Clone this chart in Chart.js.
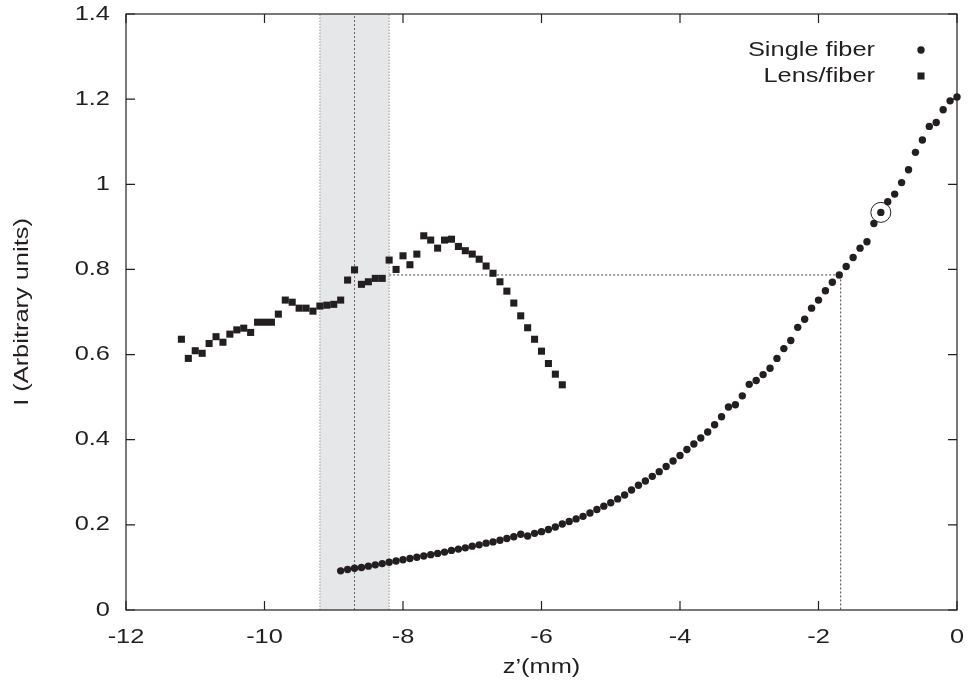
<!DOCTYPE html>
<html>
<head>
<meta charset="utf-8">
<title>I vs z'</title>
<script src="https://cdn.jsdelivr.net/npm/chart.js@4.4.1/dist/chart.umd.min.js"></script>
<style>
  html, body { margin: 0; padding: 0; background: #fff; }
  #wrap { width: 968px; height: 695px; position: relative; }
</style>
</head>
<body>
<div id="wrap"><canvas id="chart"></canvas></div>
<script>
// --- data ---
const xTicks = { min: -12, max: 0, step: 2 };
const yTicks = { min: 0, max: 1.4, step: 0.2 };

const singleZ = [
  -8.9, -8.8, -8.7, -8.6, -8.5, -8.4, -8.3, -8.2, -8.1, -8.0,
  -7.9, -7.8, -7.7, -7.6, -7.5, -7.4, -7.3, -7.2, -7.1, -7.0,
  -6.9, -6.8, -6.7, -6.6, -6.5, -6.4, -6.3, -6.2, -6.1, -6.0,
  -5.9, -5.8, -5.7, -5.6, -5.5, -5.4, -5.3, -5.2, -5.1, -5.0,
  -4.9, -4.8, -4.7, -4.6, -4.5, -4.4, -4.3, -4.2, -4.1, -4.0,
  -3.9, -3.8, -3.7, -3.6, -3.5, -3.4, -3.3, -3.2, -3.1, -3.0,
  -2.9, -2.8, -2.7, -2.6, -2.5, -2.4, -2.3, -2.2, -2.1, -2.0,
  -1.9, -1.8, -1.7, -1.6, -1.5, -1.4, -1.3, -1.2, -1.1, -1.0,
  -0.9, -0.8, -0.7, -0.6, -0.5, -0.4, -0.3, -0.2, -0.1, 0
];
const singleI = [
  0.092, 0.095, 0.098, 0.100, 0.103, 0.106, 0.109, 0.112, 0.115, 0.118,
  0.121, 0.124, 0.127, 0.130, 0.133, 0.136, 0.140, 0.143, 0.146, 0.150,
  0.153, 0.157, 0.160, 0.164, 0.168, 0.172, 0.178, 0.174, 0.180, 0.184,
  0.189, 0.195, 0.202, 0.208, 0.214, 0.220, 0.228, 0.236, 0.244, 0.252,
  0.261, 0.270, 0.282, 0.293, 0.303, 0.314, 0.325, 0.337, 0.350, 0.363,
  0.377, 0.390, 0.404, 0.418, 0.435, 0.454, 0.477, 0.482, 0.503, 0.530,
  0.539, 0.553, 0.568, 0.591, 0.614, 0.633, 0.664, 0.683, 0.709, 0.728,
  0.750, 0.770, 0.787, 0.807, 0.828, 0.850, 0.865, 0.908, 0.934, 0.959,
  0.977, 1.004, 1.034, 1.075, 1.104, 1.136, 1.145, 1.175, 1.196, 1.205
];

const lensZ = [
  -11.2, -11.1, -11.0, -10.9, -10.8, -10.7, -10.6, -10.5, -10.4, -10.3,
  -10.2, -10.1, -10.0, -9.9, -9.8, -9.7, -9.6, -9.5, -9.4, -9.3,
  -9.2, -9.1, -9.0, -8.9, -8.8, -8.7, -8.6, -8.5, -8.4, -8.3,
  -8.2, -8.1, -8.0, -7.9, -7.8, -7.7, -7.6, -7.5, -7.4, -7.3,
  -7.2, -7.1, -7.0, -6.9, -6.8, -6.7, -6.6, -6.5, -6.4, -6.3,
  -6.2, -6.1, -6.0, -5.9, -5.8, -5.7
];
const lensI = [
  0.636, 0.591, 0.609, 0.603, 0.626, 0.642, 0.629, 0.648, 0.658, 0.662,
  0.652, 0.676, 0.676, 0.676, 0.695, 0.728, 0.723, 0.709, 0.709, 0.702,
  0.714, 0.716, 0.718, 0.728, 0.775, 0.799, 0.765, 0.771, 0.779, 0.779,
  0.822, 0.800, 0.832, 0.811, 0.836, 0.879, 0.869, 0.850, 0.869, 0.871,
  0.854, 0.844, 0.836, 0.824, 0.808, 0.791, 0.771, 0.749, 0.721, 0.691,
  0.663, 0.636, 0.608, 0.579, 0.554, 0.529
];

// shaded band, its centre line, the dotted guide and the circled point
const bandZ = [-9.2, -8.2];
const bandMidZ = -8.7;
const guideZ = [-8.2, -1.68, -1.68];
const guideI = [0.787, 0.787, 0];
const circledZ = [-1.1];
const circledI = [0.934];

const seriesNames = ['Single fiber', 'Lens/fiber'];

// --- styling ---
const INK = '#231f20';
const FONT = '"Liberation Sans", Arial, Helvetica, sans-serif';

// the original uses a wide Helvetica: stretch canvas text around its anchor
const TEXT_STRETCH = 1.27;
const baseFillText = CanvasRenderingContext2D.prototype.fillText;
CanvasRenderingContext2D.prototype.fillText = function (text, x, y) {
  this.save();
  this.translate(x, y);
  this.scale(TEXT_STRETCH, 1);
  baseFillText.call(this, text, 0, 0);
  this.restore();
};

const pts = (xs, ys) => xs.map((x, i) => ({ x, y: ys[i] }));
const vline = z => [{ x: z, y: yTicks.min }, { x: z, y: yTicks.max }];

// box with inward ticks on all four sides (gnuplot style)
const framePlugin = {
  id: 'frame',
  afterDatasetsDraw(chart) {
    const { ctx, chartArea: a, scales } = chart;
    const tl = 9;
    ctx.save();
    ctx.strokeStyle = INK;
    ctx.lineWidth = 1.2;
    ctx.strokeRect(a.left, a.top, a.right - a.left, a.bottom - a.top);
    ctx.beginPath();
    scales.x.ticks.forEach(t => {
      const px = scales.x.getPixelForValue(t.value);
      ctx.moveTo(px, a.bottom); ctx.lineTo(px, a.bottom - tl);
      ctx.moveTo(px, a.top); ctx.lineTo(px, a.top + tl);
    });
    scales.y.ticks.forEach(t => {
      const py = scales.y.getPixelForValue(t.value);
      ctx.moveTo(a.left, py); ctx.lineTo(a.left + tl, py);
      ctx.moveTo(a.right, py); ctx.lineTo(a.right - tl, py);
    });
    ctx.stroke();
    ctx.restore();
  }
};

// key in the top-right corner: label on the left, marker on the right
const keyPlugin = {
  id: 'key',
  afterDraw(chart) {
    const { ctx, chartArea: a } = chart;
    const styles = [{ pointStyle: 'circle', radius: 3.7 }, { pointStyle: 'rect', radius: 5 }];
    ctx.save();
    ctx.font = `20px ${FONT}`;
    ctx.textAlign = 'right';
    ctx.textBaseline = 'middle';
    seriesNames.forEach((name, i) => {
      const y = a.top + 36 + i * 26;
      ctx.fillStyle = INK;
      ctx.fillText(name, a.right - 82, y);
      ctx.strokeStyle = INK;
      ctx.lineWidth = 0;
      Chart.helpers.drawPoint(ctx, { ...styles[i], rotation: 0, borderWidth: 0 }, a.right - 36, y);
    });
    ctx.restore();
  }
};

Chart.defaults.font.family = FONT;
Chart.defaults.font.size = 20;
Chart.defaults.color = INK;

new Chart(document.getElementById('chart'), {
  type: 'scatter',
  data: {
    datasets: [
      {
        label: seriesNames[0],
        data: pts(singleZ, singleI),
        pointStyle: 'circle',
        pointRadius: 3.7,
        backgroundColor: INK,
        borderWidth: 0,
        clip: false,
        order: 0,
      },
      {
        label: seriesNames[1],
        data: pts(lensZ, lensI),
        pointStyle: 'rect',
        pointRadius: 5,
        backgroundColor: INK,
        borderWidth: 0,
        clip: false,
        order: 0,
      },
      {
        label: 'circled',
        data: pts(circledZ, circledI),
        pointStyle: 'circle',
        pointRadius: 10,
        backgroundColor: 'rgba(0,0,0,0)',
        borderColor: INK,
        borderWidth: 1,
        order: 1,
      },
      {
        label: 'guide',
        data: pts(guideZ, guideI),
        showLine: true,
        borderColor: '#444',
        borderWidth: 1,
        borderDash: [2, 2],
        pointRadius: 0,
        order: 2,
      },
      {
        label: 'band-mid',
        data: vline(bandMidZ),
        showLine: true,
        borderColor: '#666',
        borderWidth: 1,
        borderDash: [2, 2],
        pointRadius: 0,
        order: 2,
      },
      {
        label: 'band-left',
        data: vline(bandZ[0]),
        showLine: true,
        borderColor: '#999',
        borderWidth: 1,
        borderDash: [1.5, 1.5],
        pointRadius: 0,
        order: 2,
      },
      {
        label: 'band-right',
        data: vline(bandZ[1]),
        showLine: true,
        borderColor: '#999',
        borderWidth: 1,
        borderDash: [1.5, 1.5],
        pointRadius: 0,
        order: 2,
      },
      {
        label: 'band',
        data: bandZ.map(z => ({ x: z, y: yTicks.max })),
        showLine: true,
        fill: 'origin',
        backgroundColor: '#e6e7e8',
        borderWidth: 0,
        pointRadius: 0,
        order: 3,
      },
    ],
  },
  options: {
    responsive: true,
    maintainAspectRatio: false,
    animation: false,
    events: [],
    layout: { padding: { top: 14, right: 10, left: 0, bottom: 0 } },
    plugins: {
      legend: { display: false },
      tooltip: { enabled: false },
    },
    scales: {
      x: {
        type: 'linear',
        min: xTicks.min,
        max: xTicks.max,
        ticks: { stepSize: xTicks.step, padding: 15, color: INK },
        grid: { display: false, drawTicks: false },
        border: { display: false },
        title: { display: true, text: 'z’(mm)', color: INK, padding: { top: 0, bottom: 16 } },
        afterFit: s => { s.height = 85; s.paddingLeft = 0; s.paddingRight = 0; },
      },
      y: {
        type: 'linear',
        min: yTicks.min,
        max: yTicks.max,
        ticks: {
          stepSize: yTicks.step,
          padding: 16,
          color: INK,
          callback: v => String(Number(v.toFixed(1))),
        },
        grid: { display: false, drawTicks: false },
        border: { display: false },
        title: { display: true, text: 'I (Arbitrary units)', color: INK, padding: { top: 10, bottom: 0 } },
        afterFit: s => { s.width = 126; s.paddingTop = 0; s.paddingBottom = 0; },
      },
    },
  },
  plugins: [framePlugin, keyPlugin],
});
</script>
</body>
</html>
